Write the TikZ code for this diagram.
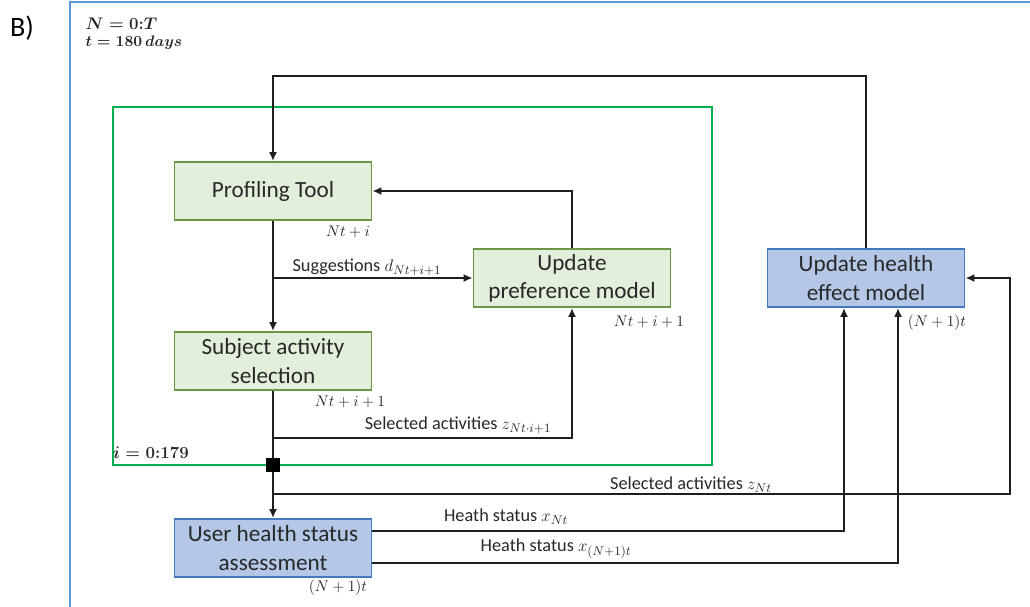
\documentclass[tikz,border=0pt]{standalone}
\usepackage{fontspec}
\setmainfont{Carlito}
\usepackage{amsmath}
\usetikzlibrary{arrows.meta}
\definecolor{stagefill}{RGB}{226,239,218}
\definecolor{stageline}{RGB}{106,150,70}
\definecolor{assessfill}{RGB}{180,199,231}
\definecolor{assessline}{RGB}{70,122,190}
\definecolor{loopframe}{RGB}{0,176,80}
\definecolor{panelframe}{RGB}{91,155,213}
\definecolor{wire}{RGB}{30,30,30}
\definecolor{ink}{RGB}{40,40,40}
\tikzset{%
  >={Latex[width=2mm,length=2.2mm]},
  % Specifications for style of nodes:
       stage/.style = {rectangle, draw=stageline, fill=stagefill, line width=1.4pt,
                       minimum width=4.925cm, minimum height=1.45cm, text=ink,
                       align=center, font=\fontsize{16.5}{20}\selectfont},
      assess/.style = {stage, draw=assessline, fill=assessfill},
    gatebox/.style = {rectangle, fill=black, minimum size=0.33cm, inner sep=0pt},
        note/.style = {font=\fontsize{11}{13}\selectfont, inner sep=1pt, text=ink},
      flowlbl/.style = {font=\fontsize{13}{15}\selectfont, inner sep=1pt, text=ink},
        wires/.style = {draw=wire, line width=1.5pt},
}
\begin{document}
\begin{tikzpicture}[node distance=4.25cm]
  \useasboundingbox (0,0) rectangle (25.75,-15.15);
  % Frames
  \draw[panelframe, line width=1.6pt] (1.75,-15.3) -- (1.75,-0.05) -- (25.9,-0.05);
  \draw[loopframe, line width=1.3pt] (2.825,-2.675) rectangle (17.8,-11.625);
  \node (panel) [font=\fontsize{20}{22}\selectfont] at (0.55,-0.7) {B)};
  \node (hN) [note, anchor=west, font=\fontsize{12}{14}\selectfont] at (2.1,-0.6) {$\boldsymbol{N = 0{:}T}$};
  \node (ht) [note, anchor=west] at (2.1,-1.075) {$\boldsymbol{t = 180\,days}$};
  \node (inner) [note, font=\fontsize{12}{14}\selectfont] at (3.775,-11.325) {$\boldsymbol{i = 0{:}179}$};

  % Specification of nodes (position, etc.)
  \node (prof) [stage] at (6.825,-4.775) {Profiling Tool};
  \node (subj) [stage, below of=prof] {Subject activity\\ selection};
  \node (user) [assess, below of=subj, yshift=-0.425cm] {User health status\\ assessment};
  \node (pref) [stage, right of=prof, xshift=3.225cm, yshift=-2.175cm] {Update\\ preference model};
  \node (health) [assess, right of=pref, xshift=3.1cm] {Update health\\ effect model};
  \node (gate) [gatebox] at (prof.south |- 0,-11.625) {};

  % Time stamps
  \node (tprof) [note] at (8.7,-5.8) {$Nt+i$};
  \node (tsubj) [note] at (8.75,-10.05) {$Nt+i+1$};
  \node (tpref) [note] at (16.225,-8.05) {$Nt+i+1$};
  \node (tuser) [note] at (8.45,-14.7) {$(N+1)t$};
  \node (thealth) [note] at (23.425,-8.075) {$(N+1)t$};

  % Specification of lines between nodes specified above
  \coordinate (sug) at (prof.south |- pref.west);
  \coordinate (sel) at (6.825,-10.95);
  \coordinate (selout) at (6.825,-12.35);
  \coordinate (bend) at (25.25,-12.35);

  \draw[wires,->] (health.north) -- (health.north |- 0,-1.9) -| (prof.north);
  \draw[wires,->] (pref.north) |- (prof.east);
  \draw[wires,->] (prof.south) -- (subj.north);
  \draw[wires,->] (sug) -- (pref.west);
  \draw[wires,->] (sel) -| (pref.south);
  \draw[wires,->] (subj.south) -- (gate) -- (user.north);
  \draw[wires,->] (selout) -- (bend) |- (health.east);
  \draw[wires,->] ([yshift=0.425cm]user.east) -| ([xshift=-0.55cm]health.south);
  \draw[wires,->] ([yshift=-0.375cm]user.east) -| ([xshift=0.8cm]health.south);

  % Labels on the lines
  \node (lsug) [flowlbl] at (9.175,-6.675) {Suggestions $d_{Nt+i+1}$};
  \node (lsel) [flowlbl] at (11.45,-10.625) {Selected activities $z_{Nt\cdot i+1}$};
  \node (lselout) [flowlbl] at (17.275,-12.125) {Selected activities $z_{Nt}$};
  \node (lxnow) [flowlbl] at (12.65,-12.925) {Heath status $x_{Nt}$};
  \node (lxnext) [flowlbl] at (13.9,-13.725) {Heath status $x_{(N+1)t}$};
\end{tikzpicture}
\end{document}
